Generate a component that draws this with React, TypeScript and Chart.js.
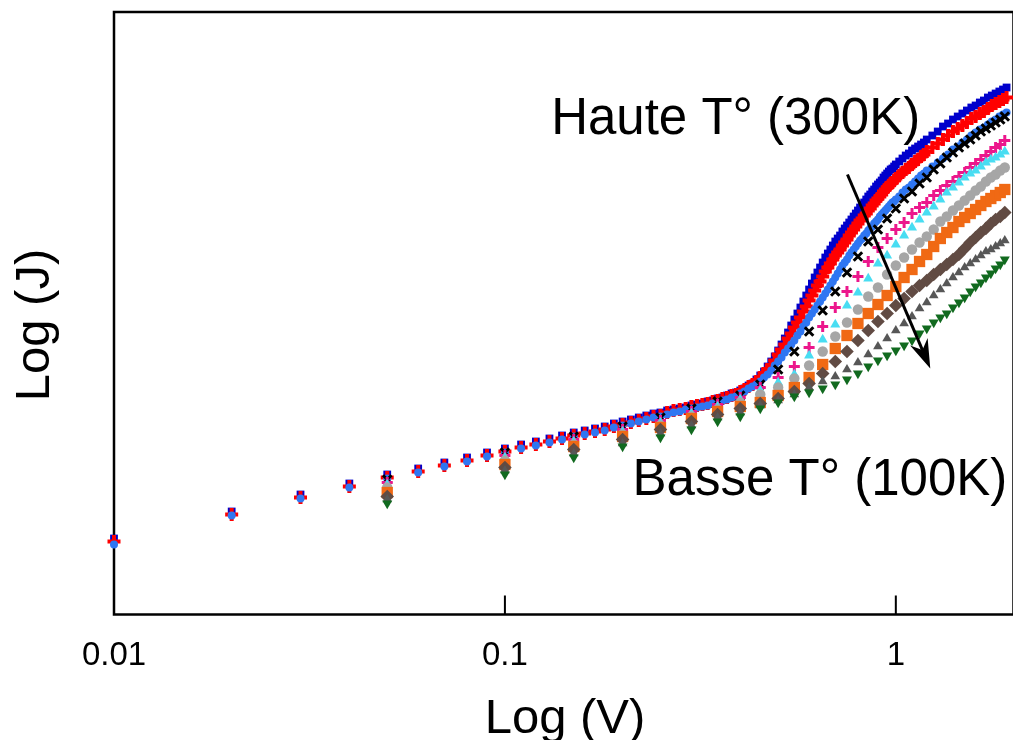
import React, { useEffect, useRef } from "react";
import { Chart, registerables } from "chart.js";

Chart.register(...registerables);

const FONT = '"Liberation Sans", Arial, Helvetica, sans-serif';

// ---- x values (V) ----
const vDense = [
  0.01, 0.02, 0.03, 0.04, 0.05, 0.06, 0.07, 0.08, 0.09, 0.10,
  0.11, 0.12, 0.13, 0.14, 0.15, 0.16, 0.17, 0.18, 0.19, 0.20,
  0.21, 0.22, 0.23, 0.24, 0.25, 0.26, 0.27, 0.28, 0.29, 0.30,
  0.31, 0.32, 0.33, 0.34, 0.35, 0.36, 0.37, 0.38, 0.39, 0.40,
  0.41, 0.42, 0.43, 0.44, 0.45, 0.46, 0.47, 0.48, 0.49, 0.50,
  0.51, 0.52, 0.53, 0.54, 0.55, 0.56, 0.57, 0.58, 0.59, 0.60,
  0.61, 0.62, 0.63, 0.64, 0.65, 0.66, 0.67, 0.68, 0.69, 0.70,
  0.71, 0.72, 0.73, 0.74, 0.75, 0.76, 0.77, 0.78, 0.79, 0.80,
  0.81, 0.82, 0.83, 0.84, 0.85, 0.86, 0.87, 0.88, 0.89, 0.90,
  0.91, 0.92, 0.93, 0.94, 0.95, 0.96, 0.97, 0.98, 0.99, 1.00,
  1.02, 1.04, 1.06, 1.08, 1.10, 1.12, 1.14, 1.16, 1.18, 1.20,
  1.24, 1.28, 1.32, 1.36, 1.40, 1.44, 1.48, 1.52, 1.56, 1.60,
  1.64, 1.68, 1.72, 1.76, 1.80, 1.84, 1.88, 1.92,
];

const vSparse = [
  0.05, 0.10, 0.15, 0.20, 0.25, 0.30, 0.35, 0.40, 0.45, 0.50,
  0.55, 0.60, 0.65, 0.70, 0.75, 0.80, 0.85, 0.90, 0.95, 1.00,
  1.05, 1.10, 1.15, 1.20, 1.25, 1.30, 1.35, 1.40, 1.45, 1.50,
  1.55, 1.60, 1.65, 1.70, 1.75, 1.80, 1.85, 1.90,
];

// ---- Log(J) values (arbitrary units) ----
const j300K = [
  0.76, 1.03, 1.20, 1.31, 1.40, 1.46, 1.52, 1.57, 1.62, 1.66,
  1.70, 1.73, 1.76, 1.79, 1.82, 1.84, 1.86, 1.88, 1.91, 1.93,
  1.95, 1.97, 1.99, 2.01, 2.02,
  2.04, 2.05, 2.06, 2.07, 2.09, 2.10, 2.11, 2.13, 2.14, 2.16,
  2.17, 2.19, 2.21, 2.22, 2.24, 2.26, 2.29, 2.31, 2.35, 2.39,
  2.43, 2.48, 2.53, 2.58, 2.64, 2.70, 2.76, 2.82, 2.89, 2.95,
  3.01, 3.07, 3.13, 3.19, 3.25, 3.31, 3.37, 3.42, 3.47, 3.52,
  3.57, 3.61, 3.65, 3.69, 3.73, 3.76, 3.79, 3.83, 3.86, 3.89,
  3.92, 3.95, 3.98, 4.01, 4.04, 4.07, 4.10, 4.12, 4.15, 4.18,
  4.20, 4.23, 4.25, 4.28, 4.30, 4.32, 4.34, 4.37, 4.39, 4.41,
  4.43, 4.45, 4.46, 4.48, 4.50,
  4.53, 4.56, 4.59, 4.61, 4.64, 4.66, 4.68, 4.70, 4.72, 4.75,
  4.79, 4.83, 4.88, 4.91, 4.95, 4.98, 5.01, 5.04, 5.07, 5.09,
  5.12, 5.14, 5.17, 5.19, 5.21, 5.23, 5.25, 5.27,
];

const j280K = [
  0.73, 1.00, 1.17, 1.28, 1.37, 1.43, 1.49, 1.54, 1.59, 1.63,
  1.67, 1.70, 1.73, 1.76, 1.79, 1.81, 1.83, 1.85, 1.88, 1.90,
  1.92, 1.94, 1.96, 1.98, 1.99,
  2.02, 2.04, 2.05, 2.06, 2.08, 2.09, 2.10, 2.11, 2.13, 2.14,
  2.16, 2.17, 2.19, 2.20, 2.23, 2.25, 2.28, 2.30, 2.33, 2.37,
  2.41, 2.45, 2.49, 2.54, 2.60, 2.65, 2.70, 2.76, 2.81, 2.87,
  2.92, 2.97, 3.03, 3.08, 3.14, 3.19, 3.24, 3.29, 3.33, 3.38,
  3.43, 3.47, 3.51, 3.55, 3.59, 3.62, 3.65, 3.69, 3.72, 3.75,
  3.79, 3.82, 3.85, 3.88, 3.91, 3.94, 3.96, 3.99, 4.01, 4.04,
  4.06, 4.09, 4.11, 4.14, 4.16, 4.18, 4.20, 4.23, 4.25, 4.27,
  4.29, 4.31, 4.32, 4.34, 4.36,
  4.39, 4.42, 4.45, 4.47, 4.50, 4.53, 4.55, 4.58, 4.60, 4.63,
  4.67, 4.71, 4.75, 4.79, 4.83, 4.86, 4.89, 4.92, 4.96, 4.98,
  5.01, 5.03, 5.06, 5.09, 5.11, 5.13, 5.15, 5.17,
];

const j260K = [
  0.70, 0.99, 1.16, 1.27, 1.36, 1.42, 1.48, 1.53, 1.58, 1.62,
  1.66, 1.69, 1.72, 1.75, 1.78, 1.80, 1.82, 1.84, 1.87, 1.89,
  1.91, 1.93, 1.95, 1.97, 1.98,
  2.00, 2.02, 2.03, 2.05, 2.06, 2.07, 2.08, 2.09, 2.11, 2.12,
  2.14, 2.15, 2.17, 2.18, 2.21, 2.23, 2.26, 2.28, 2.30, 2.33,
  2.37, 2.40, 2.44, 2.49, 2.53, 2.57, 2.62, 2.66, 2.70, 2.74,
  2.79, 2.83, 2.88, 2.92, 2.97, 3.01, 3.05, 3.09, 3.13, 3.17,
  3.21, 3.25, 3.29, 3.33, 3.37, 3.41, 3.45, 3.49, 3.52, 3.55,
  3.59, 3.62, 3.65, 3.68, 3.71, 3.74, 3.76, 3.79, 3.81, 3.84,
  3.86, 3.88, 3.91, 3.93, 3.95, 3.98, 4.00, 4.02, 4.04, 4.06,
  4.08, 4.10, 4.12, 4.13, 4.15,
  4.18, 4.22, 4.25, 4.27, 4.30, 4.33, 4.36, 4.39, 4.41, 4.44,
  4.48, 4.52, 4.56, 4.60, 4.65, 4.68, 4.72, 4.75, 4.79, 4.82,
  4.85, 4.87, 4.90, 4.93, 4.95, 4.98, 5.00, 5.02,
];

const j240K = [
  1.35, 1.62, 1.78, 1.88, 1.97, 2.06, 2.13, 2.19, 2.30, 2.45,
  2.63, 2.83, 3.04, 3.23, 3.42, 3.58, 3.73, 3.85, 3.96, 4.06,
  4.16, 4.23, 4.31, 4.37, 4.45, 4.51, 4.57, 4.62, 4.67, 4.71,
  4.75, 4.79, 4.83, 4.86, 4.89, 4.92, 4.95, 4.98,
];

const j220K = [
  1.32, 1.59, 1.75, 1.85, 1.94, 2.03, 2.10, 2.17, 2.27, 2.37,
  2.48, 2.67, 2.88, 3.07, 3.23, 3.38, 3.53, 3.67, 3.76, 3.85,
  3.92, 4.01, 4.07, 4.12, 4.19, 4.24, 4.29, 4.33, 4.38, 4.42,
  4.47, 4.51, 4.55, 4.59, 4.63, 4.67, 4.70, 4.74,
];

const j200K = [
  1.30, 1.57, 1.73, 1.83, 1.92, 2.01, 2.08, 2.15, 2.24, 2.32,
  2.40, 2.59, 2.75, 2.90, 3.09, 3.22, 3.36, 3.51, 3.59, 3.70,
  3.79, 3.87, 3.95, 4.02, 4.08, 4.15, 4.22, 4.27, 4.32, 4.37,
  4.41, 4.44, 4.48, 4.52, 4.55, 4.57, 4.60, 4.63,
];

const j180K = [
  1.27, 1.54, 1.70, 1.80, 1.89, 1.98, 2.05, 2.12, 2.20, 2.27,
  2.36, 2.49, 2.63, 2.78, 2.92, 3.05, 3.18, 3.27, 3.40, 3.49,
  3.57, 3.65, 3.72, 3.78, 3.85, 3.93, 3.98, 4.04, 4.09, 4.14,
  4.19, 4.24, 4.28, 4.33, 4.37, 4.40, 4.44, 4.47,
];

const j160K = [
  1.22, 1.50, 1.68, 1.78, 1.87, 1.96, 2.03, 2.08, 2.12, 2.19,
  2.27, 2.37, 2.50, 2.66, 2.79, 2.91, 3.01, 3.10, 3.19, 3.28,
  3.37, 3.45, 3.53, 3.60, 3.68, 3.76, 3.82, 3.87, 3.93, 3.97,
  4.01, 4.05, 4.09, 4.13, 4.16, 4.19, 4.22, 4.25,
];

const j140K = [
  1.18, 1.47, 1.65, 1.75, 1.85, 1.93, 2.00, 2.06, 2.11, 2.16,
  2.23, 2.31, 2.41, 2.53, 2.63, 2.74, 2.84, 2.93, 3.01, 3.09,
  3.16, 3.23, 3.29, 3.34, 3.40, 3.45, 3.50, 3.55, 3.60, 3.66,
  3.72, 3.77, 3.82, 3.86, 3.91, 3.95, 3.98, 4.02,
];

const j120K = [
  1.15, 1.44, 1.61, 1.71, 1.81, 1.89, 1.97, 2.02, 2.09, 2.14,
  2.20, 2.27, 2.33, 2.38, 2.45, 2.52, 2.60, 2.68, 2.76, 2.84,
  2.91, 2.98, 3.06, 3.12, 3.19, 3.25, 3.31, 3.37, 3.42, 3.47,
  3.51, 3.55, 3.59, 3.63, 3.65, 3.68, 3.71, 3.74,
];

const j100K = [
  1.11, 1.40, 1.57, 1.68, 1.77, 1.85, 1.93, 1.98, 2.06, 2.12,
  2.18, 2.22, 2.26, 2.30, 2.35, 2.41, 2.48, 2.54, 2.59, 2.64,
  2.69, 2.74, 2.81, 2.86, 2.92, 2.97, 3.01, 3.07, 3.12, 3.17,
  3.23, 3.28, 3.32, 3.37, 3.41, 3.46, 3.50, 3.55,
];

const xTickValues = [0.01, 0.1, 1];
const xTickLabels = ["0.01", "0.1", "1"];

const xTitle = "Log (V)";
const yTitle = "Log (J)";
const highLabel = "Haute T° (300K)";
const lowLabel = "Basse T° (100K)";

// annotation anchors in data coordinates
const highLabelAt = { x: 0.1313, y: 4.805 };
const lowLabelAt = { x: 0.2121, y: 1.2 };
const arrowFrom = { x: 0.752, y: 4.4 };
const arrowTo = { x: 1.225, y: 2.46 };

// ---- layout ----
const CANVAS_W = 1024;
const CANVAS_H = 740;
const X_MIN = 0.01;
const X_MAX = 2;
const Y_MIN = 0;
const Y_MAX = 6.025;
const AREA_LEFT = 114;
const AREA_TOP = 12;
const AREA_BOTTOM = 614.5;
const DECADE_PX = 393.5;
const AREA_RIGHT = AREA_LEFT + DECADE_PX * Math.log10(X_MAX / X_MIN);

type SeriesDef = {
  label: string;
  xs: number[];
  ys: number[];
  color: string;
  style: string;
  radius: number;
  stroke?: number;
  rotation?: number;
};

const series: SeriesDef[] = [
  { label: "300K", xs: vDense, ys: j300K, color: "#0000CC", style: "rect", radius: 5.5 },
  { label: "280K", xs: vDense, ys: j280K, color: "#FF0000", style: "cross", radius: 6.5, stroke: 4 },
  { label: "260K", xs: vDense, ys: j260K, color: "#2F76F2", style: "circle", radius: 4 },
  { label: "240K", xs: vSparse, ys: j240K, color: "#000000", style: "crossRot", radius: 6, stroke: 3 },
  { label: "220K", xs: vSparse, ys: j220K, color: "#EC178C", style: "cross", radius: 5.5, stroke: 3 },
  { label: "200K", xs: vSparse, ys: j200K, color: "#48DDF2", style: "triangle", radius: 5.8 },
  { label: "180K", xs: vSparse, ys: j180K, color: "#A6A6A6", style: "circle", radius: 5.2 },
  { label: "160K", xs: vSparse, ys: j160K, color: "#F06914", style: "rect", radius: 8 },
  { label: "140K", xs: vSparse, ys: j140K, color: "#614B43", style: "rectRot", radius: 6.8 },
  { label: "120K", xs: vSparse, ys: j120K, color: "#575757", style: "triangle", radius: 5.6 },
  { label: "100K", xs: vSparse, ys: j100K, color: "#116A1F", style: "triangle", radius: 5.8, rotation: 180 },
];

const decorPlugin = {
  id: "decor",
  beforeDatasetsDraw(chart: any) {
    const { ctx, chartArea } = chart;
    const xs = chart.scales.x;
    ctx.save();
    ctx.strokeStyle = "#000";
    ctx.lineWidth = 2.5;
    ctx.beginPath();
    ctx.rect(chartArea.left, chartArea.top, chartArea.right - chartArea.left, chartArea.bottom - chartArea.top);
    ctx.stroke();
    ctx.lineWidth = 2;
    ctx.beginPath();
    for (const t of xTickValues) {
      const px = xs.getPixelForValue(t);
      ctx.moveTo(px, chartArea.bottom);
      ctx.lineTo(px, chartArea.bottom - 19);
    }
    ctx.stroke();
    ctx.restore();
  },
  afterDraw(chart: any) {
    const { ctx, chartArea } = chart;
    const xs = chart.scales.x;
    const ys = chart.scales.y;
    ctx.save();
    ctx.fillStyle = "#000";
    // tick labels
    ctx.font = `33px ${FONT}`;
    ctx.textAlign = "center";
    ctx.textBaseline = "alphabetic";
    xTickValues.forEach((t, i) => {
      ctx.fillText(xTickLabels[i], xs.getPixelForValue(t), chartArea.bottom + 50);
    });
    // axis titles
    ctx.font = `49px ${FONT}`;
    ctx.fillText(xTitle, 565, 733);
    ctx.save();
    ctx.translate(49, 325);
    ctx.rotate(-Math.PI / 2);
    ctx.fillText(yTitle, 0, 0);
    ctx.restore();
    // annotations
    ctx.font = `51px ${FONT}`;
    ctx.textAlign = "left";
    ctx.fillText(highLabel, xs.getPixelForValue(highLabelAt.x), ys.getPixelForValue(highLabelAt.y));
    ctx.fillText(lowLabel, xs.getPixelForValue(lowLabelAt.x), ys.getPixelForValue(lowLabelAt.y));
    // arrow
    const x0 = xs.getPixelForValue(arrowFrom.x);
    const y0 = ys.getPixelForValue(arrowFrom.y);
    const x1 = xs.getPixelForValue(arrowTo.x);
    const y1 = ys.getPixelForValue(arrowTo.y);
    const dx = x1 - x0;
    const dy = y1 - y0;
    const len = Math.hypot(dx, dy);
    const ux = dx / len;
    const uy = dy / len;
    const nx = -uy;
    const ny = ux;
    const headLen = 29;
    const headHalf = 9.5;
    ctx.strokeStyle = "#000";
    ctx.lineWidth = 3;
    ctx.beginPath();
    ctx.moveTo(x0, y0);
    ctx.lineTo(x1 - ux * 12, y1 - uy * 12);
    ctx.stroke();
    ctx.beginPath();
    ctx.moveTo(x1, y1);
    ctx.lineTo(x1 - ux * headLen + nx * headHalf, y1 - uy * headLen + ny * headHalf);
    ctx.lineTo(x1 - ux * (headLen - 9), y1 - uy * (headLen - 9));
    ctx.lineTo(x1 - ux * headLen - nx * headHalf, y1 - uy * headLen - ny * headHalf);
    ctx.closePath();
    ctx.fill();
    ctx.restore();
  },
};

export default function App() {
  const canvasRef = useRef<HTMLCanvasElement | null>(null);

  useEffect(() => {
    const canvas = canvasRef.current;
    if (!canvas) return;
    const datasets = series.map((s, i) => {
      const isStroke = s.style === "cross" || s.style === "crossRot";
      return {
        label: s.label,
        data: s.xs.map((x, k) => ({ x, y: s.ys[k] })),
        pointStyle: s.style,
        pointRadius: s.radius,
        pointRotation: s.rotation || 0,
        pointBackgroundColor: s.color,
        pointBorderColor: s.color,
        pointBorderWidth: isStroke ? s.stroke : 0,
        backgroundColor: s.color,
        borderColor: s.color,
        showLine: false,
        clip: false,
        order: 20 - i,
      };
    });
    const chart = new Chart(canvas, {
      type: "scatter",
      data: { datasets: datasets as any },
      options: {
        responsive: false,
        animation: false,
        devicePixelRatio: 1,
        events: [],
        layout: {
          padding: {
            left: AREA_LEFT,
            top: AREA_TOP,
            right: CANVAS_W - AREA_RIGHT,
            bottom: CANVAS_H - AREA_BOTTOM,
          },
        },
        plugins: {
          legend: { display: false },
          tooltip: { enabled: false },
          title: { display: false },
        },
        scales: {
          x: { type: "logarithmic", min: X_MIN, max: X_MAX, display: false },
          y: { type: "linear", min: Y_MIN, max: Y_MAX, display: false },
        },
      },
      plugins: [decorPlugin],
    });
    return () => chart.destroy();
  }, []);

  return (
    <div
      style={{
        position: "fixed",
        left: 0,
        top: 0,
        width: 1013,
        height: 740,
        overflow: "hidden",
        background: "#fff",
      }}
    >
      <canvas
        ref={canvasRef}
        width={CANVAS_W}
        height={CANVAS_H}
        style={{ width: CANVAS_W, height: CANVAS_H, display: "block" }}
      />
    </div>
  );
}
